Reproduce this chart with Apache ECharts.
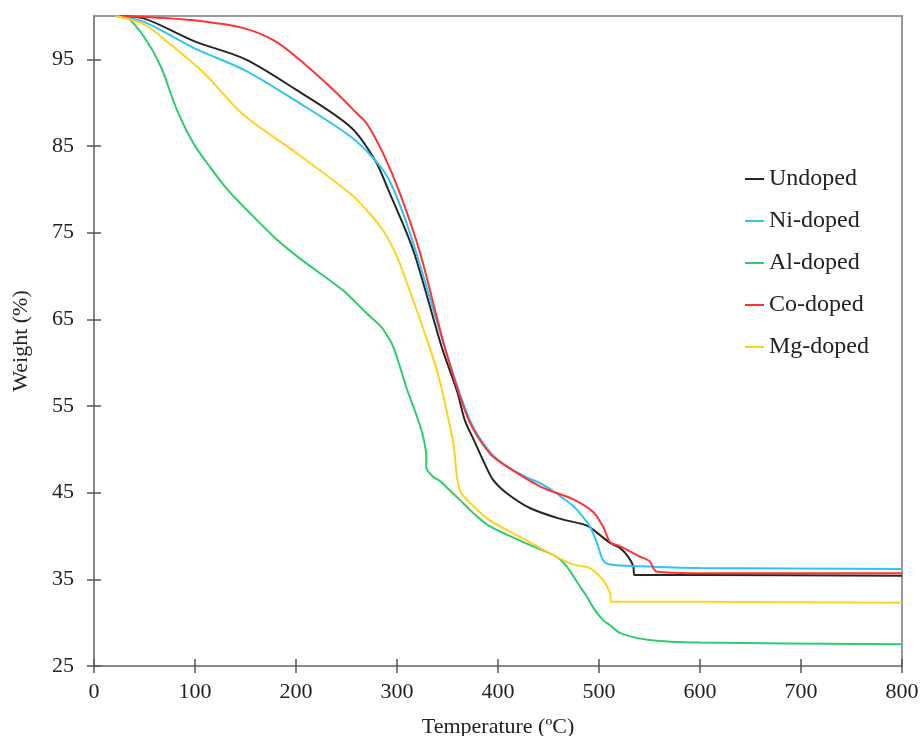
<!DOCTYPE html>
<html>
<head>
<meta charset="utf-8">
<script src="https://cdn.jsdelivr.net/npm/echarts@6/dist/echarts.min.js"></script>
<style>html,body{margin:0;padding:0;background:#fff}#c{width:923px;height:736px}</style>
</head>
<body>
<div id="c"></div>
<script>
const seriesNames = ['Undoped', 'Ni-doped', 'Al-doped', 'Co-doped', 'Mg-doped'];
const seriesColors = ['#262626', '#2ec4f5', '#2ecc6b', '#ff3333', '#ffd21f'];
const xTicks = [0, 100, 200, 300, 400, 500, 600, 700, 800];
const yTicks = [25, 35, 45, 55, 65, 75, 85, 95];

const undoped = [[22,100],[50,99.7],[99,97.1],[150,95.0],[200,91.5],[254,87.2],[278,83.4],[293,79.5],[316,73.0],[344,61.9],[360,56.5],[367,53.4],[376,51.1],[385,48.8],[395,46.5],[409,44.9],[432,43.2],[461,42.0],[488,41.2],[501,40.1],[511,39.2],[521,38.6],[529,37.6],[534,36.5],[535,35.5],[600,35.5],[800,35.4]];
const niDoped = [[22,100],[50,99.3],[99,96.3],[150,93.7],[200,90.2],[254,86.1],[278,83.4],[293,80.9],[313,74.9],[348,61.5],[372,53.4],[392,49.7],[409,48.0],[428,46.8],[445,45.9],[458,44.9],[475,43.4],[484,42.2],[491,41.1],[498,39.2],[504,37.2],[511,36.7],[540,36.5],[600,36.3],[800,36.2]];
const alDoped = [[22,100],[33,99.8],[49.5,97.6],[66,94.2],[82,89.2],[99,85.2],[116,82.4],[132,80.0],[154,77.3],[181,74.2],[204,72.0],[237,69.2],[248,68.2],[270,65.7],[283,64.3],[290,63.2],[296,61.9],[303,59.5],[310,56.9],[320,53.7],[326,51.4],[329,49.1],[329,47.9],[336,46.8],[343,46.3],[352,45.3],[362,44.2],[376,42.6],[392,41.1],[425,39.3],[458,37.6],[468,36.5],[481,34.2],[488,33.0],[494,31.8],[504,30.3],[511,29.7],[521,28.8],[550,28.0],[600,27.7],[800,27.5]];
const coDoped = [[22,100],[50,99.9],[99,99.5],[148,98.6],[178,97.2],[198,95.5],[234,91.8],[260,88.8],[270,87.6],[286,84.2],[303,79.5],[323,72.6],[348,61.5],[371,53.4],[392,49.5],[409,48.0],[442,45.7],[475,44.2],[494,42.8],[504,41.1],[511,39.3],[521,38.8],[541,37.6],[550,37.1],[557,35.9],[600,35.7],[800,35.7]];
const mgDoped = [[22,100],[50,99.0],[75,96.8],[109,93.4],[148,88.6],[198,84.4],[254,79.5],[270,77.6],[286,75.3],[300,72.2],[316,67.2],[333,61.5],[343,57.6],[350.5,53.7],[356,50.5],[362,45.3],[376,43.4],[392,41.8],[425,39.7],[458,37.6],[475,36.7],[491,36.3],[504,34.9],[511,33.4],[512,32.4],[600,32.4],[800,32.3]];
const seriesData = [undoped, niDoped, alDoped, coDoped, mgDoped];

const font = 'Liberation Serif';
const chart = echarts.init(document.getElementById('c'));
const tickStyle = { color: '#555', width: 1.5 };
chart.setOption({
  animation: false,
  backgroundColor: '#fff',
  textStyle: { fontFamily: font },
  grid: { left: 94, top: 16, right: 21, bottom: 70, show: true, borderColor: '#9a9a9a', borderWidth: 2,
          containLabel: false, outerBoundsMode: 'none' },
  legend: {
    orient: 'vertical', left: 740, top: 162, itemWidth: 19, itemHeight: 2, itemGap: 18,
    icon: 'rect',
    textStyle: { fontFamily: font, fontSize: 24, color: '#222' },
    data: seriesNames
  },
  xAxis: [{
    type: 'value', position: 'bottom', min: 0, max: 800, interval: 100,
    name: 'Temperature (ºC)', nameLocation: 'middle', nameGap: 50,
    nameTextStyle: { fontFamily: font, fontSize: 22, color: '#222' },
    axisLine: { show: true, lineStyle: { color: '#888', width: 2 } },
    axisTick: { show: true, inside: false, length: 7, lineStyle: tickStyle },
    axisLabel: { margin: 15, fontFamily: font, fontSize: 22, color: '#222', customValues: xTicks },
    splitLine: { show: false }
  }, {
    type: 'value', position: 'bottom', min: 0, max: 800, interval: 100,
    axisLine: { show: false },
    axisTick: { show: true, inside: true, length: 7, lineStyle: tickStyle },
    axisLabel: { show: false },
    splitLine: { show: false }
  }],
  yAxis: [{
    type: 'value', position: 'left', min: 25, max: 100,
    name: 'Weight (%)', nameLocation: 'middle', nameGap: 62,
    nameTextStyle: { fontFamily: font, fontSize: 22, color: '#222' },
    axisLine: { show: true, lineStyle: { color: '#888', width: 2 } },
    axisTick: { show: true, inside: false, length: 7, lineStyle: tickStyle, customValues: yTicks },
    axisLabel: { margin: 20, fontFamily: font, fontSize: 22, color: '#222', customValues: yTicks },
    splitLine: { show: false }
  }, {
    type: 'value', position: 'left', min: 25, max: 100,
    axisLine: { show: false },
    axisTick: { show: true, inside: true, length: 7, lineStyle: tickStyle, customValues: yTicks },
    axisLabel: { show: false },
    splitLine: { show: false }
  }],
  series: seriesNames.map((n, i) => ({
    name: n, type: 'line', data: seriesData[i], xAxisIndex: 0, yAxisIndex: 0,
    symbol: 'none', smooth: 0.3,
    color: seriesColors[i],
    lineStyle: { color: seriesColors[i], width: 2 }
  }))
});
</script>
</body>
</html>
